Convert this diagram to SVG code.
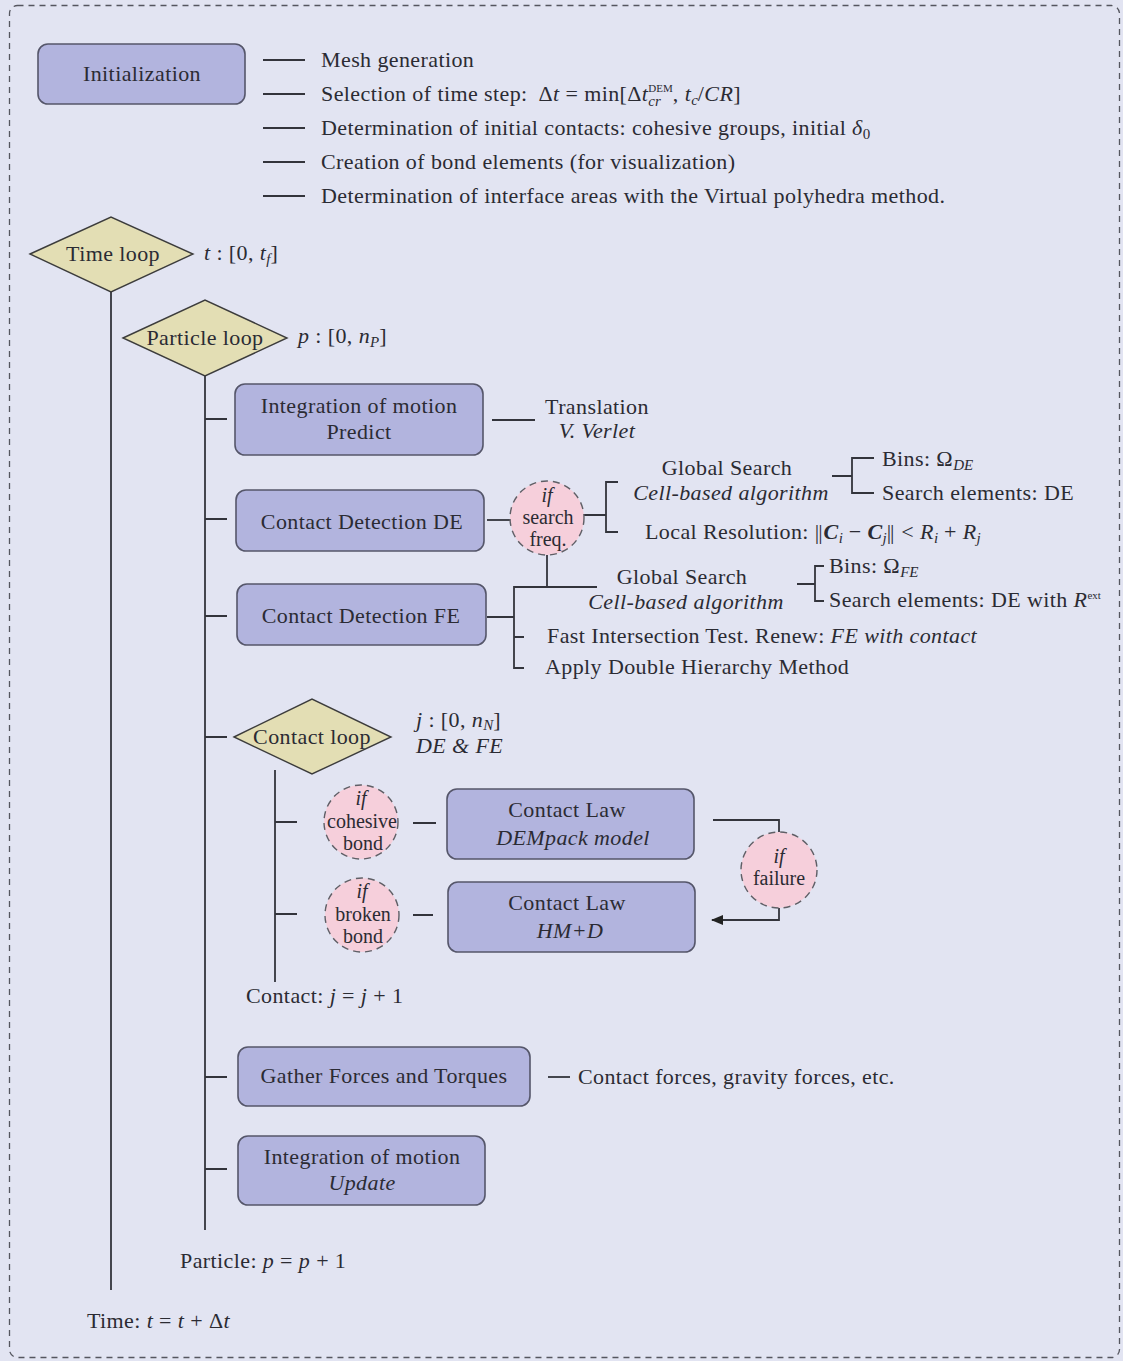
<svg xmlns="http://www.w3.org/2000/svg" width="1123" height="1361" viewBox="0 0 1123 1361">
  <style>
    text { font-family: "Liberation Serif", "Times New Roman", serif; font-size: 22px; letter-spacing: 0.4px; fill: #2b2b33; }
    .it { font-style: italic; }
    .bi { font-style: italic; font-weight: bold; }
    .c { text-anchor: middle; }
    .sub { font-size: 15px; letter-spacing: 0; }
    .sup { font-size: 11px; letter-spacing: 0; }
    .ct { font-size: 20px; letter-spacing: 0; }
    .norm { letter-spacing: -1px; }
    .box { fill: #b2b4de; stroke: #55566a; stroke-width: 1.6; }
    .dia { fill: #e3deb4; stroke: #3c3c3c; stroke-width: 1.4; }
    .cond { fill: #f6cfdb; stroke: #5f5f66; stroke-width: 1.4; stroke-dasharray: 7 5; }
    .ln { fill: none; stroke: #33343c; stroke-width: 1.8; }
  </style>
  <defs>
    <marker id="arrow" viewBox="0 0 10 10" refX="9" refY="5" markerWidth="7" markerHeight="7" orient="auto">
      <path d="M0,1 L10,5 L0,9 z" fill="#222"/>
    </marker>
  </defs>

  <!-- page background and dashed frame -->
  <rect x="0" y="0" width="1123" height="1361" fill="#e2e4f2"/>
  <rect x="9.5" y="5.5" width="1110" height="1352" rx="8" fill="#e2e4f2" stroke="#55565f" stroke-width="1.3" stroke-dasharray="6 5"/>

  <!-- connectors -->
  <g id="connectors" class="ln">
    <!-- initialization items -->
    <path d="M263 60 H305 M263 94 H305 M263 128 H305 M263 162 H305 M263 196 H305"/>
    <!-- time loop spine -->
    <path d="M111 292 V1290"/>
    <!-- particle loop spine and branches -->
    <path d="M205 376 V1230"/>
    <path d="M205 419 H227 M205 519 H227 M205 616 H227 M205 737 H227 M205 1077 H227 M205 1169 H227"/>
    <!-- predict -> translation -->
    <path d="M492 420 H535"/>
    <!-- DE detection -->
    <path d="M487 520 H511"/>
    <path d="M584 515 H606 M618 482 H606 V532 H618"/>
    <path d="M832 476 H852 M874 458 H852 V493 H874"/>
    <!-- FE detection -->
    <path d="M547 555 V587"/>
    <path d="M487 617 H514 M597 587 H514 V668 H524 M514 637 H524"/>
    <path d="M797 584 H815 M824 566 H815 V601 H824"/>
    <!-- contact loop spine and branches -->
    <path d="M275 770 V982"/>
    <path d="M275 822 H297 M275 914 H297"/>
    <path d="M413 823 H436 M413 915 H433"/>
    <!-- failure switch -->
    <path d="M713 820 H779 V832"/>
    <path d="M779 908 V920 H712" marker-end="url(#arrow)"/>
    <!-- gather forces -->
    <path d="M548 1077 H570"/>
  </g>

  <!-- initialization -->
  <g id="init">
    <rect class="box" x="38" y="44" width="207" height="60" rx="10"/>
    <text class="c" x="142" y="81">Initialization</text>
  </g>
  <g id="init-items">
    <text x="321" y="67">Mesh generation</text>
    <text x="321" y="101">Selection of time step: <tspan dx="5">Δ</tspan><tspan class="it">t</tspan> = min[Δ<tspan class="it">t</tspan><tspan class="it sub" dy="5">cr</tspan><tspan class="sup" dx="-12.5" dy="-14">DEM</tspan><tspan dy="9">, </tspan><tspan class="it">t</tspan><tspan class="it sub" dy="4">c</tspan><tspan dy="-4">/</tspan><tspan class="it">CR</tspan>]</text>
    <text x="321" y="135">Determination of initial contacts: cohesive groups, initial <tspan class="it">δ</tspan><tspan class="sub" dy="4">0</tspan></text>
    <text x="321" y="169">Creation of bond elements (for visualization)</text>
    <text x="321" y="203">Determination of interface areas with the Virtual polyhedra method.</text>
  </g>

  <!-- time loop -->
  <g id="time-loop">
    <polygon class="dia" points="30,254 111,217 193,254 111,292"/>
    <text class="c" x="113" y="261">Time loop</text>
    <text x="204" y="260"><tspan class="it">t</tspan> : [0, <tspan class="it">t</tspan><tspan class="it sub" dy="4">f</tspan><tspan dy="-4">]</tspan></text>
  </g>

  <!-- particle loop -->
  <g id="particle-loop">
    <polygon class="dia" points="123,338 205,300 287,338 205,376"/>
    <text class="c" x="205" y="345">Particle loop</text>
    <text x="298" y="343"><tspan class="it">p</tspan> : [0, <tspan class="it">n</tspan><tspan class="it sub" dy="4">P</tspan><tspan dy="-4">]</tspan></text>
  </g>

  <!-- predict -->
  <g id="predict">
    <rect class="box" x="235" y="384" width="248" height="71" rx="10"/>
    <text class="c" x="359" y="413">Integration of motion</text>
    <text class="c" x="359" y="439">Predict</text>
  </g>
  <g id="translation">
    <text class="c" x="597" y="414">Translation</text>
    <text class="c it" x="597" y="438">V. Verlet</text>
  </g>

  <!-- contact detection DE -->
  <g id="detect-de">
    <rect class="box" x="236" y="490" width="248" height="61" rx="10"/>
    <text class="c" x="362" y="529">Contact Detection DE</text>
  </g>
  <g id="search-freq">
    <circle class="cond" cx="547" cy="518" r="37"/>
    <text class="c it ct" x="547" y="502">if</text>
    <text class="c ct" x="548" y="524">search</text>
    <text class="c ct" x="548" y="546">freq.</text>
  </g>
  <g id="global-de">
    <text class="c" x="727" y="475">Global Search</text>
    <text class="c it" x="731" y="500">Cell-based algorithm</text>
  </g>
  <g id="bins-de">
    <text x="882" y="466">Bins: Ω<tspan class="it sub" dy="4">DE</tspan></text>
    <text x="882" y="500">Search elements: DE</text>
  </g>
  <g id="local-res">
    <text x="645" y="539">Local Resolution: <tspan class="norm">||</tspan><tspan class="bi" dx="2">C</tspan><tspan class="it sub" dy="4">i</tspan><tspan dy="-4"> − </tspan><tspan class="bi">C</tspan><tspan class="it sub" dy="4">j</tspan><tspan class="norm" dy="-4">||</tspan><tspan dx="2"> &lt; </tspan><tspan class="it">R</tspan><tspan class="it sub" dy="4">i</tspan><tspan dy="-4"> + </tspan><tspan class="it">R</tspan><tspan class="it sub" dy="4">j</tspan></text>
  </g>

  <!-- contact detection FE -->
  <g id="detect-fe">
    <rect class="box" x="237" y="584" width="249" height="61" rx="10"/>
    <text class="c" x="361" y="623">Contact Detection FE</text>
  </g>
  <g id="global-fe">
    <text class="c" x="682" y="584">Global Search</text>
    <text class="c it" x="686" y="609">Cell-based algorithm</text>
  </g>
  <g id="bins-fe">
    <text x="829" y="573">Bins: Ω<tspan class="it sub" dy="4">FE</tspan></text>
    <text x="829" y="607">Search elements: DE with <tspan class="it">R</tspan><tspan class="sup" dy="-8">ext</tspan></text>
  </g>
  <g id="fast-test">
    <text x="547" y="643">Fast Intersection Test. Renew: <tspan class="it">FE with contact</tspan></text>
  </g>
  <g id="double-hierarchy">
    <text x="545" y="674">Apply Double Hierarchy Method</text>
  </g>

  <!-- contact loop -->
  <g id="contact-loop">
    <polygon class="dia" points="234,737 312,699 391,737 312,774"/>
    <text class="c" x="312" y="744">Contact loop</text>
    <text x="416" y="727"><tspan class="it">j</tspan> : [0, <tspan class="it">n</tspan><tspan class="it sub" dy="3">N</tspan><tspan dy="-3">]</tspan></text>
    <text class="it" x="416" y="753">DE &amp; FE</text>
  </g>

  <g id="cohesive">
    <circle class="cond" cx="361" cy="822" r="37"/>
    <text class="c it ct" x="361" y="805">if</text>
    <text class="c ct" x="362" y="828">cohesive</text>
    <text class="c ct" x="363" y="850">bond</text>
  </g>
  <g id="law-dempack">
    <rect class="box" x="447" y="789" width="247" height="70" rx="10"/>
    <text class="c" x="567" y="817">Contact Law</text>
    <text class="c it" x="573" y="845">DEMpack model</text>
  </g>

  <g id="broken">
    <circle class="cond" cx="362" cy="915" r="37"/>
    <text class="c it ct" x="362" y="898">if</text>
    <text class="c ct" x="363" y="921">broken</text>
    <text class="c ct" x="363" y="943">bond</text>
  </g>
  <g id="law-hmd">
    <rect class="box" x="448" y="882" width="247" height="70" rx="10"/>
    <text class="c" x="567" y="910">Contact Law</text>
    <text class="c it" x="570" y="938">HM+D</text>
  </g>

  <g id="failure">
    <circle class="cond" cx="779" cy="870" r="38"/>
    <text class="c it ct" x="779" y="863">if</text>
    <text class="c ct" x="779" y="885">failure</text>
  </g>

  <g id="contact-next">
    <text x="246" y="1003">Contact: <tspan class="it">j</tspan> = <tspan class="it">j</tspan> + 1</text>
  </g>

  <!-- gather forces -->
  <g id="gather">
    <rect class="box" x="238" y="1047" width="292" height="59" rx="10"/>
    <text class="c" x="384" y="1083">Gather Forces and Torques</text>
  </g>
  <g id="forces">
    <text x="578" y="1084">Contact forces, gravity forces, etc.</text>
  </g>

  <!-- update -->
  <g id="update">
    <rect class="box" x="238" y="1136" width="247" height="69" rx="10"/>
    <text class="c" x="362" y="1164">Integration of motion</text>
    <text class="c it" x="362" y="1190">Update</text>
  </g>

  <g id="particle-next">
    <text x="180" y="1268">Particle: <tspan class="it">p</tspan> = <tspan class="it">p</tspan> + 1</text>
  </g>
  <g id="time-next">
    <text x="87" y="1328">Time: <tspan class="it">t</tspan> = <tspan class="it">t</tspan> + Δ<tspan class="it">t</tspan></text>
  </g>
</svg>
